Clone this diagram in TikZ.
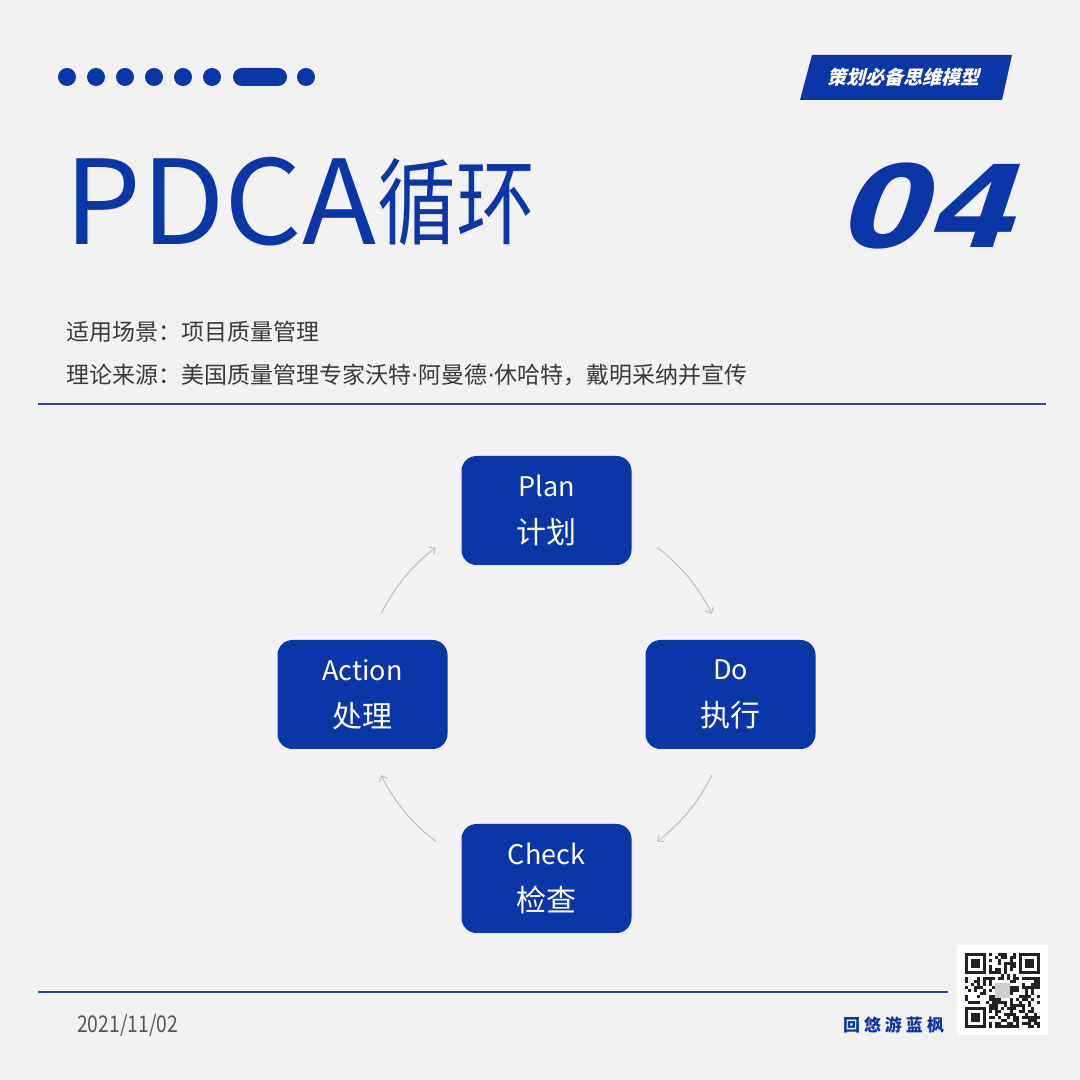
\documentclass[tikz,border=0pt]{standalone}
\usepackage{fontspec}
\setmainfont{Noto Sans CJK SC}
\newfontfamily\numfont{DejaVu Sans}
\usetikzlibrary{arrows.meta,positioning}

\definecolor{pdcablue}{HTML}{0A36A7}
\definecolor{paper}{HTML}{F2F2F2}
\definecolor{inkgray}{HTML}{3A3A3A}
\definecolor{rulecol}{HTML}{2F4A8C}
\definecolor{arccol}{HTML}{B4BCCB}
\definecolor{qrink}{HTML}{222222}

\newcommand{\middot}{{\numfont ·}}

\tikzset{
  stage/.style={fill=pdcablue, rounded corners=15pt, minimum width=170pt,
    minimum height=109pt, inner sep=0pt, text=white, align=center,
    font=\fontsize{27}{47}\selectfont},
  info/.style={anchor=base west, inner sep=0pt, text=inkgray,
    font=\fontsize{23}{23}\selectfont},
  cyclearrow/.style={draw=arccol, line width=0.9pt,
    -{Straight Barb[length=5pt,width=9pt]}},
  rule/.style={draw=rulecol, line width=1.6pt},
}

\begin{document}
\begin{tikzpicture}[x=1pt, y=1pt]
  % Page
  \fill[paper] (0,0) rectangle (1080,1080);
  \useasboundingbox (0,0) rectangle (1080,1080);

  % Dots and pill, top left
  \foreach \x in {67,96,125,154,183,212,306}
    \fill[pdcablue] (\x,1003) circle (9);
  \fill[pdcablue, rounded corners=9pt] (233,994) rectangle (287,1012);

  % Slanted tag, top right
  \fill[pdcablue] (812,1025) -- (1012,1025) -- (1002,980) -- (800,980) -- cycle;
  \node[text=white, font=\bfseries\fontsize{19}{19}\selectfont, xslant=0.25,
    inner sep=0pt] (tag) at (905,1002.5) {策划必备思维模型};

  % Big number
  \node[anchor=base, inner sep=0pt, text=pdcablue, xslant=0.33, xscale=1.12,
    font=\numfont\bfseries\fontsize{114}{114}\selectfont] (num) at (923,832) {04};

  % Title
  \node[anchor=base west, inner sep=0pt, text=pdcablue, xscale=1.04,
    font=\fontsize{117}{117}\selectfont] (pdca) at (64,835) {PDCA};
  \node[right=1pt of pdca.base east, anchor=base west, yshift=7pt, inner sep=0pt,
    text=pdcablue, xscale=0.84, font=\fontsize{94}{94}\selectfont] (loop) {循环};

  % Scene and source
  \node[info] (scene) at (66,739) {适用场景：项目质量管理};
  \node[info] (source) at (66,696)
    {理论来源：美国质量管理专家沃特\middot 阿曼德\middot 休哈特，戴明采纳并宣传};
  \draw[rule] (38,676) -- (1046,676);

  % The four stages
  \node[stage] (plan)   at (546.5,569.5) {Plan\\{\fontsize{30}{47}\selectfont 计划}};
  \node[stage] (do)     at (730.5,385.5) {Do\\{\fontsize{30}{47}\selectfont 执行}};
  \node[stage] (check)  at (546.5,201.5) {Check\\{\fontsize{30}{47}\selectfont 检查}};
  \node[stage] (action) at (362.5,385.5) {Action\\{\fontsize{30}{47}\selectfont 处理}};

  % Cycle arrows round the hub
  \coordinate (hub) at (546.5,385.5);
  \foreach \a/\b in {53/26, -26/-53, -127/-154, 154/127}
    \draw[cyclearrow] ([shift={(\a:184)}]hub) arc[start angle=\a, end angle=\b, radius=184];

  % Footer
  \draw[rule] (38,88) -- (948,88);
  \node[anchor=base west, inner sep=0pt, text=inkgray!85, xscale=0.84,
    font=\fontsize{23}{23}\selectfont] (date) at (77,47) {2021/11/02};
  \node[text=pdcablue, font=\bfseries\fontsize{17}{17}\selectfont,
    inner sep=0pt] (brand) at (893.5,55)
    {回\hspace{4pt}悠\hspace{4pt}游\hspace{4pt}蓝\hspace{4pt}枫};

  % QR code
  \fill[white] (957,45) rectangle (1048,135);
  \pgfmathsetseed{11}
  \foreach \i in {0,...,24}{
    \foreach \j in {0,...,24}{
      \pgfmathtruncatemacro\bit{(rnd>0.5)*(\i>7 || \j>7)*(\i>7 || \j<17)*(\i<17 || \j<17)*(\i<10 || \i>14 || \j<10 || \j>14)}
      \ifnum\bit=1 \fill[qrink] (965+3*\i,52+3*\j) rectangle ++(3,3); \fi
    }
  }
  \foreach \fx/\fy in {0/18,18/18,0/0}{
    \fill[qrink] (965+3*\fx,52+3*\fy) rectangle ++(21,21);
    \fill[white] (968+3*\fx,55+3*\fy) rectangle ++(15,15);
    \fill[qrink] (971+3*\fx,58+3*\fy) rectangle ++(9,9);
  }
  \fill[gray!40] (995,82) rectangle (1010,97);
\end{tikzpicture}
\end{document}
